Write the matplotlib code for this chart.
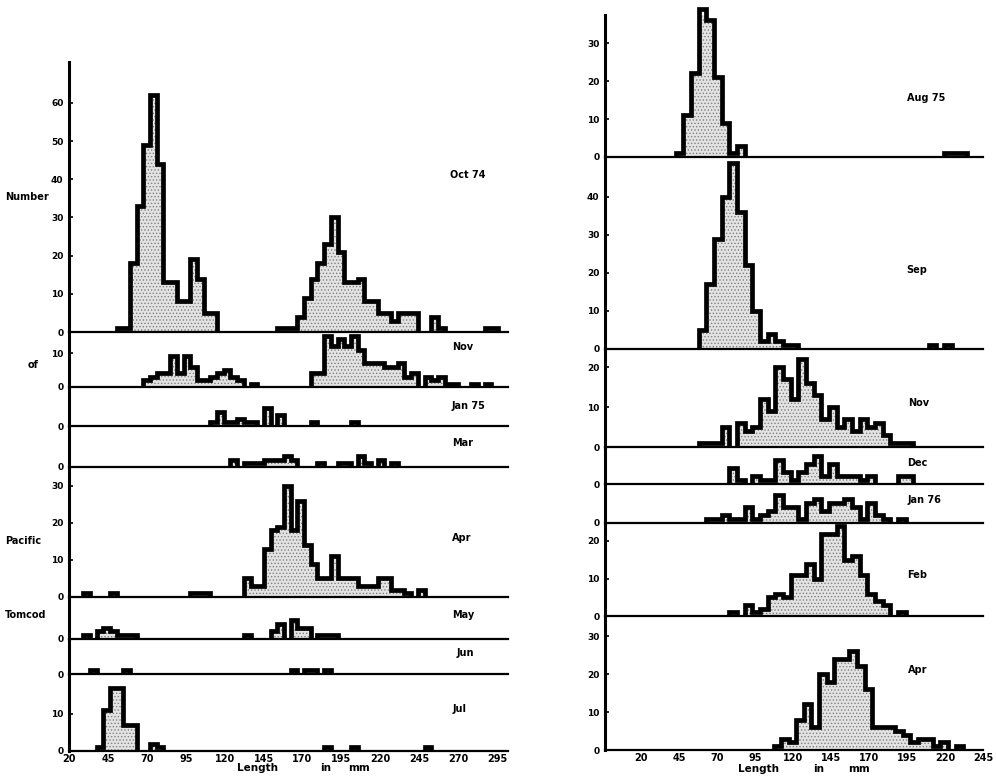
import numpy as np
import matplotlib.pyplot as plt

W, H = 996, 779
plt.rcParams['font.family'] = ['DejaVu Sans']
plt.rcParams['font.weight'] = 'bold'
plt.rcParams['hatch.linewidth'] = 0.6

# ==============================
# DATA (counts per length class)
# ==============================

# left column: classes of ~4.3 mm starting at 20.5 mm
LEFT_EDGE0, LEFT_BIN = 20.5, 4.3
LEFT_TICKS = [20, 45, 70, 95, 120, 145, 170, 195, 220, 245, 270, 295]

oct74_start = 7
oct74 = [1, 1, 18, 33, 49, 62, 44, 13, 13, 8, 8, 19, 14, 5, 5,
         0, 0, 0, 0, 0, 0, 0, 0, 0,
         1, 1, 1, 4, 9, 14, 18, 23, 30, 21, 13, 13, 14, 8, 8, 5, 5, 3, 5, 5, 5,
         0, 0, 4, 1, 0, 0, 0, 0, 0, 0, 1, 1]

nov74_start = 11
nov74 = [2, 3, 4, 4, 9, 4, 9, 6, 2, 2, 3, 4, 5, 3, 2, 0, 1,
         0, 0, 0, 0, 0, 0, 0, 0,
         4, 4, 15, 12, 14, 12, 15, 11, 7, 7, 7, 6, 6, 7, 3, 4, 0, 3, 2, 3, 1, 1,
         0, 0, 1, 0, 1]

jan75_start = 21
jan75 = [1, 4, 1, 1, 2, 1, 1, 0, 5, 0, 3, 0, 0, 0, 0, 1, 0, 0, 0, 0, 0, 1]

mar75_start = 24
mar75 = [2, 0, 1, 1, 1, 2, 2, 2, 3, 2, 0, 0, 0, 1, 0, 0, 1, 1, 0, 3, 1, 0, 2, 0, 1]

apr75_start = 2
apr75 = [1, 0, 0, 0, 1, 0, 0, 0, 0, 0, 0, 0, 0, 0, 0, 0, 1, 1, 1,
         0, 0, 0, 0, 0,
         5, 3, 3, 13, 18, 19, 30, 18, 26, 14, 9, 5, 5, 11, 5, 5, 5, 3, 3, 3, 5, 5,
         2, 2, 1, 0, 2]

may75_start = 2
may75 = [1, 0, 2, 3, 2, 1, 1, 1,
         0, 0, 0, 0, 0, 0, 0, 0, 0, 0, 0, 0, 0, 0, 0, 0,
         1, 0, 0, 0, 2, 4, 0, 5, 3, 3, 0, 1, 1, 1]

jun75_start = 3
jun75 = [1, 0, 0, 0, 0, 1,
         0, 0, 0, 0, 0, 0, 0, 0, 0, 0, 0, 0, 0, 0, 0, 0, 0, 0, 0, 0, 0, 0, 0, 0,
         1, 0, 1, 1, 0, 1]

jul75_start = 4
jul75 = [1, 11, 17, 17, 7, 7, 0, 0, 2, 1,
         0, 0, 0, 0, 0, 0, 0, 0, 0, 0, 0, 0, 0, 0, 0, 0, 0, 0, 0, 0, 0, 0, 0, 0,
         1, 0, 0, 0, 1, 0, 0, 0, 0, 0, 0, 0, 0, 0, 0, 1]

# right column: 5 mm classes starting at 2 mm
RIGHT_EDGE0, RIGHT_BIN = 2.0, 5.0
RIGHT_TICKS = [20, 45, 70, 95, 120, 145, 170, 195, 220, 245]

aug75_start = 8
aug75 = [1, 11, 22, 39, 36, 21, 9, 1, 3,
         0, 0, 0, 0, 0, 0, 0, 0, 0, 0, 0, 0, 0, 0, 0, 0, 0, 0, 0, 0, 0, 0, 0, 0, 0, 0,
         1, 1, 1]

sep75_start = 11
sep75 = [5, 17, 29, 40, 49, 36, 22, 10, 2, 4, 2, 1, 1,
         0, 0, 0, 0, 0, 0, 0, 0, 0, 0, 0, 0, 0, 0, 0, 0, 0,
         1, 0, 1]

nov75_start = 11
nov75 = [1, 1, 1, 5, 0, 6, 4, 5, 12, 9, 20, 17, 12, 22, 16, 13, 7, 10, 5, 7,
         4, 7, 5, 6, 3, 1, 1, 1]

dec75_start = 15
dec75 = [4, 1, 0, 2, 1, 1, 6, 3, 1, 3, 5, 7, 2, 5, 2, 2, 2, 1, 2, 0, 0, 0, 2, 2]

jan76_start = 12
jan76 = [1, 1, 2, 1, 1, 4, 1, 2, 3, 7, 4, 4, 1, 5, 6, 3, 5, 5, 6, 4, 1, 5, 2, 1, 0, 1]

feb76_start = 15
feb76 = [1, 0, 3, 1, 2, 5, 6, 5, 11, 11, 14, 10, 22, 22, 24, 15, 16, 11, 6, 4, 3, 0, 1]

apr76_start = 21
apr76 = [1, 3, 2, 8, 12, 6, 20, 18, 24, 24, 26, 22, 16, 6, 6, 6, 5, 4, 2, 3, 3, 1, 2, 0, 1]

left_names = ["Oct 74", "Nov", "Jan 75", "Mar", "Apr", "May", "Jun", "Jul"]
left_series = [(oct74_start, oct74), (nov74_start, nov74), (jan75_start, jan75),
               (mar75_start, mar75), (apr75_start, apr75), (may75_start, may75),
               (jun75_start, jun75), (jul75_start, jul75)]
left_ymax = [70.7, 16.2, 10.8, 11.4, 35.1, 11.1, 9.3, 20.8]
left_yticks = [[0, 10, 20, 30, 40, 50, 60], [0, 10], [0], [0], [0, 10, 20, 30], [0], [0], [0, 10]]

right_names = ["Aug 75", "Sep", "Nov", "Dec", "Jan 76", "Feb", "Apr"]
right_series = [(aug75_start, aug75), (sep75_start, sep75), (nov75_start, nov75),
                (dec75_start, dec75), (jan76_start, jan76), (feb76_start, feb76),
                (apr76_start, apr76)]
right_ymax = [37.4, 50.5, 24.5, 9.3, 9.8, 24.8, 35.3]
right_yticks = [[0, 10, 20, 30], [0, 10, 20, 30, 40], [0, 10, 20], [0], [0], [0, 10, 20], [0, 10, 20, 30]]

# ==============================
# LAYOUT (pixels)
# ==============================

left_x = (69, 508)
left_xlim = (20, 302)
left_rows = [(62, 332), (332, 387), (387, 426), (426, 467), (467, 597),
             (597, 639), (639, 674), (674, 751)]
left_label_pos = [(450, 175), (452, 347), (452, 406), (452, 443), (452, 538),
                  (452, 615), (457, 653), (453, 709)]

right_x = (605, 983)
right_xlim = (-4, 242.5)
right_rows = [(15, 157), (157, 349), (349, 447), (447, 484), (484, 523),
              (523, 616), (616, 750)]
right_label_pos = [(907, 98), (906, 270), (908, 403), (907, 463), (908, 500),
                   (907, 575), (908, 670)]

fig = plt.figure(figsize=(W / 100, H / 100), dpi=100)


def nonzero_runs(counts):
    # split a histogram into runs of non-empty classes so that empty
    # stretches leave only the thin axis line
    runs, cur = [], None
    for i, c in enumerate(counts):
        if c > 0:
            if cur is None:
                cur = i
        elif cur is not None:
            runs.append((cur, i))
            cur = None
    if cur is not None:
        runs.append((cur, len(counts)))
    return runs


def draw_column(xpx, xlim, rows, names, series, ymax, yticks, edge0, binw,
                label_pos, xticks):
    n = len(rows)
    for i in range(n):
        top, base = rows[i]
        ax = fig.add_axes([xpx[0] / W, 1 - base / H, (xpx[1] - xpx[0]) / W, (base - top) / H])
        start, counts = series[i]
        for a, b in nonzero_runs(counts):
            vals = counts[a:b]
            edges = edge0 + binw * np.arange(start + a, start + b + 1)
            ax.stairs(vals, edges, baseline=0, fill=True, facecolor='#e3e3e3',
                      edgecolor='#808080', hatch='.....', linewidth=0)
            ax.stairs(vals, edges, baseline=0, color='black', linewidth=3.4,
                      clip_on=False)
        ax.set_xlim(*xlim)
        ax.set_ylim(0, ymax[i])
        ax.patch.set_alpha(0)
        for s in ['top', 'right']:
            ax.spines[s].set_visible(False)
        ax.spines['left'].set_linewidth(2.2)
        ax.spines['bottom'].set_linewidth(1.6)
        ax.set_yticks(yticks[i])
        ax.tick_params(axis='y', direction='in', length=3, width=1.2,
                       labelsize=6.5, pad=4)
        if i == n - 1:
            ax.set_xticks(xticks)
            ax.tick_params(axis='x', length=0, labelsize=7, pad=2)
        else:
            ax.set_xticks([])
        fig.text(label_pos[i][0] / W, 1 - label_pos[i][1] / H, names[i],
                 fontsize=7, fontweight='bold', ha='left', va='center')


draw_column(left_x, left_xlim, left_rows, left_names, left_series, left_ymax,
            left_yticks, LEFT_EDGE0, LEFT_BIN, left_label_pos, LEFT_TICKS)
draw_column(right_x, right_xlim, right_rows, right_names, right_series, right_ymax,
            right_yticks, RIGHT_EDGE0, RIGHT_BIN, right_label_pos, RIGHT_TICKS)

# axis wording, set as in the original
for word, x, y in [("Number", 5, 197), ("of", 28, 365), ("Pacific", 5, 541), ("Tomcod", 5, 615)]:
    fig.text(x / W, 1 - y / H, word, fontsize=7, fontweight='bold', ha='left', va='center')

for word, x, y in [("Length", 237, 768), ("in", 320, 768), ("mm", 348, 768),
                   ("Length", 738, 769), ("in", 813, 769), ("mm", 848, 769)]:
    fig.text(x / W, 1 - y / H, word, fontsize=7.5, fontweight='bold', ha='left', va='center')

fig.savefig("out.png", dpi=100)
